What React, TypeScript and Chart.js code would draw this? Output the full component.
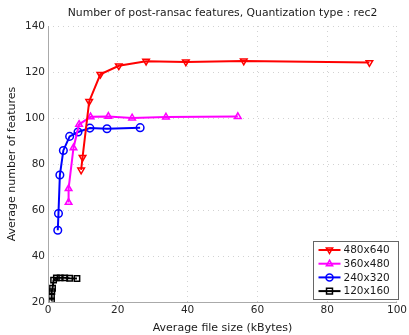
import React, { useEffect, useRef } from "react";
import { Chart, registerables } from "chart.js";

Chart.register(...registerables);

const seriesNames = ["480x640", "360x480", "240x320", "120x160"];
const seriesColors = ["#ff0000", "#ff00ff", "#0000ff", "#000000"];
const seriesMarkers = ["triangleDown", "triangle", "circle", "rect"];

const x480 = [9.5, 9.9, 11.8, 15.0, 20.3, 28.1, 39.5, 56.1, 92.1];
const y480 = [77.4, 82.9, 107.2, 119.0, 122.7, 124.7, 124.4, 124.8, 124.1];

const x360 = [5.9, 5.9, 7.3, 8.9, 12.2, 17.3, 24.1, 33.8, 54.4];
const y360 = [63.3, 69.3, 87.0, 97.2, 100.5, 100.7, 100.0, 100.4, 100.6];

const x240 = [2.8, 3.0, 3.4, 4.4, 6.2, 8.6, 12.0, 16.9, 26.4];
const y240 = [51.2, 58.5, 75.2, 85.9, 92.0, 93.9, 95.6, 95.3, 95.8];

const x120 = [1.0, 1.0, 1.1, 1.3, 1.6, 2.4, 3.5, 4.8, 6.2, 8.3];
const y120 = [20.5, 22.5, 24.5, 26.0, 29.5, 30.5, 30.5, 30.5, 30.3, 30.2];

const xTicks = [0, 20, 40, 60, 80, 100];
const yTicks = [20, 40, 60, 80, 100, 120, 140];

const titleText = "Number of post-ransac features, Quantization type : rec2";
const xTitle = "Average file size (kBytes)";
const yTitle = "Average number of features";

const FONT = "'DejaVu Sans', sans-serif";

function zip(xs: number[], ys: number[]) {
  return xs.map((x, i) => ({ x, y: ys[i] }));
}

function drawMarker(ctx: CanvasRenderingContext2D, kind: string, x: number, y: number, r: number) {
  ctx.beginPath();
  if (kind === "circle") {
    ctx.arc(x, y, r, 0, Math.PI * 2);
  } else if (kind === "rect") {
    ctx.rect(x - r * 0.85, y - r * 0.85, r * 1.7, r * 1.7);
  } else if (kind === "triangle") {
    ctx.moveTo(x, y - r);
    ctx.lineTo(x + r * 0.9, y + r * 0.6);
    ctx.lineTo(x - r * 0.9, y + r * 0.6);
    ctx.closePath();
  } else {
    ctx.moveTo(x, y + r);
    ctx.lineTo(x + r * 0.9, y - r * 0.6);
    ctx.lineTo(x - r * 0.9, y - r * 0.6);
    ctx.closePath();
  }
  ctx.stroke();
}

export default function App() {
  const ref = useRef<HTMLCanvasElement | null>(null);

  useEffect(() => {
    document.body.style.margin = "0";
    const canvas = ref.current;
    if (!canvas) return;

    const xs = [x480, x360, x240, x120];
    const ys = [y480, y360, y240, y120];

    const datasets = seriesNames.map((name, i) => ({
      label: name,
      data: zip(xs[i], ys[i]),
      borderColor: seriesColors[i],
      backgroundColor: seriesColors[i],
      borderWidth: 2,
      pointStyle: seriesMarkers[i] === "triangleDown" ? "triangle" : seriesMarkers[i],
      rotation: seriesMarkers[i] === "triangleDown" ? 180 : 0,
      pointRadius: 3.8,
      pointBorderWidth: 1.5,
      pointBorderColor: seriesColors[i],
      pointBackgroundColor: "rgba(0,0,0,0)",
      showLine: true,
      fill: false,
      tension: 0,
    }));

    const titlePlugin = {
      id: "customTitle",
      afterDraw(chart: any) {
        const ctx = chart.ctx as CanvasRenderingContext2D;
        const a = chart.chartArea;
        ctx.save();
        ctx.fillStyle = "#1a1a1a";
        ctx.font = `10.8px ${FONT}`;
        ctx.textAlign = "center";
        ctx.textBaseline = "middle";
        ctx.fillText(titleText, (a.left + a.right) / 2, 13);
        ctx.restore();
      },
    };

    const axesPlugin = {
      id: "axesLines",
      afterDraw(chart: any) {
        const ctx = chart.ctx as CanvasRenderingContext2D;
        const a = chart.chartArea;
        ctx.save();
        ctx.strokeStyle = "#aaaaaa";
        ctx.lineWidth = 1;
        ctx.setLineDash([]);
        ctx.beginPath();
        ctx.moveTo(Math.round(a.left) + 0.5, a.top);
        ctx.lineTo(Math.round(a.left) + 0.5, a.bottom);
        ctx.moveTo(a.left, Math.round(a.bottom) + 0.5);
        ctx.lineTo(a.right, Math.round(a.bottom) + 0.5);
        ctx.stroke();
        ctx.restore();
      },
    };

    const legendPlugin = {
      id: "customLegend",
      afterDraw(chart: any) {
        const ctx = chart.ctx as CanvasRenderingContext2D;
        const bx = 313.5, by = 241.5, bw = 85, bh = 58;
        ctx.save();
        ctx.fillStyle = "#ffffff";
        ctx.fillRect(bx, by, bw, bh);
        ctx.strokeStyle = "#666666";
        ctx.lineWidth = 1;
        ctx.strokeRect(bx, by, bw, bh);
        seriesNames.forEach((name, i) => {
          const ry = by + 8.5 + i * 13.7;
          ctx.strokeStyle = seriesColors[i];
          ctx.lineWidth = 2;
          ctx.beginPath();
          ctx.moveTo(bx + 5, ry);
          ctx.lineTo(bx + 27, ry);
          ctx.stroke();
          ctx.lineWidth = 1.5;
          drawMarker(ctx, seriesMarkers[i], bx + 16, ry, 3.5);
          ctx.fillStyle = "#1a1a1a";
          ctx.font = `10.5px ${FONT}`;
          ctx.textAlign = "left";
          ctx.textBaseline = "middle";
          ctx.fillText(name, bx + 30, ry + 0.5);
        });
        ctx.restore();
      },
    };

    const chart = new Chart(canvas, {
      type: "scatter",
      data: { datasets },
      options: {
        animation: false,
        responsive: false,
        maintainAspectRatio: false,
        layout: { padding: { top: 26, right: 11, left: 0, bottom: 0 } },
        plugins: {
          legend: { display: false },
          title: { display: false },
          tooltip: { enabled: false },
        },
        scales: {
          x: {
            type: "linear",
            min: 0,
            max: 100,
            afterBuildTicks: (s: any) => {
              s.ticks = xTicks.map((v) => ({ value: v }));
            },
            afterFit: (s: any) => {
              s.height = 33;
            },
            ticks: {
              font: { family: FONT, size: 10.5 },
              color: "#262626",
              padding: 2,
              maxRotation: 0,
            },
            grid: {
              color: "#d2d2d2",
              drawTicks: false,
            },
            border: { display: false, dash: [1, 4] },
            title: {
              display: true,
              text: xTitle,
              font: { family: FONT, size: 11 },
              color: "#1a1a1a",
              padding: { top: 0, bottom: 0 },
            },
          },
          y: {
            type: "linear",
            min: 20,
            max: 140,
            afterBuildTicks: (s: any) => {
              s.ticks = yTicks.map((v) => ({ value: v }));
            },
            afterFit: (s: any) => {
              s.width = 48;
            },
            ticks: {
              font: { family: FONT, size: 10.5 },
              color: "#262626",
              padding: 3,
            },
            grid: {
              color: "#d2d2d2",
              drawTicks: false,
            },
            border: { display: false, dash: [1, 4] },
            title: {
              display: true,
              text: yTitle,
              font: { family: FONT, size: 11 },
              color: "#1a1a1a",
              padding: { top: 6, bottom: 0 },
            },
          },
        },
      },
      plugins: [titlePlugin, axesPlugin, legendPlugin],
    } as any);

    return () => chart.destroy();
  }, []);

  return (
    <div style={{ position: "absolute", left: 0, top: 0, width: 409, height: 335, background: "#fff" }}>
      <canvas ref={ref} width={409} height={335} style={{ width: 409, height: 335 }} />
    </div>
  );
}
